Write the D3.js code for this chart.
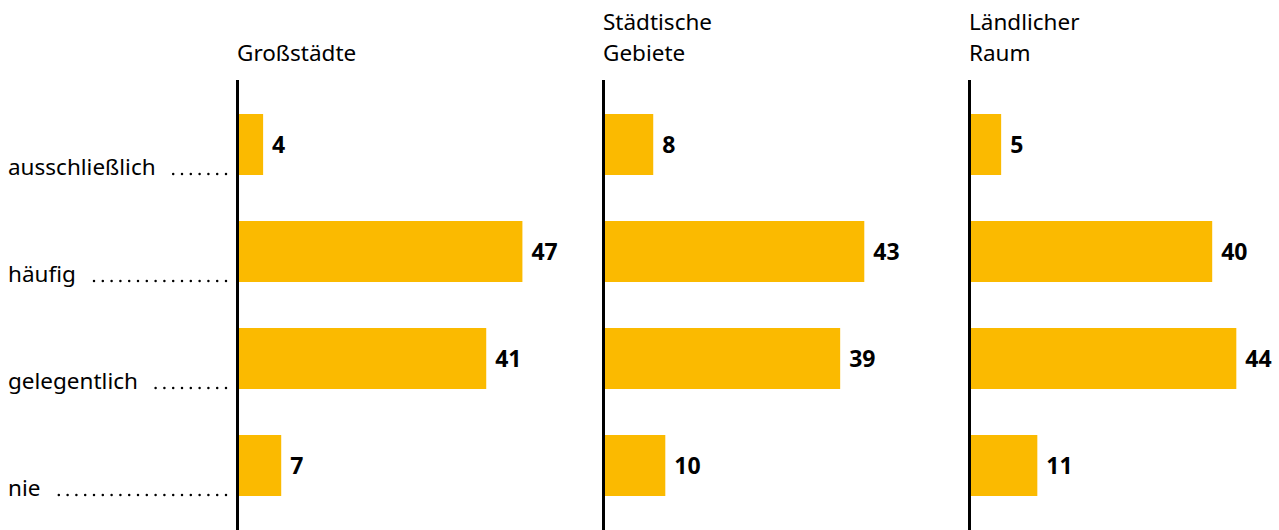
<!DOCTYPE html>
<html>
<head>
<meta charset="utf-8">
<script src="https://cdn.jsdelivr.net/npm/d3@7"></script>
<style>
  body{margin:0;background:#fff;}
  text{font-family:"Noto Sans",sans-serif;fill:#000;}
</style>
</head>
<body>
<svg id="chart" width="1279" height="530"></svg>
<script>
"use strict";

const categories = ["ausschließlich", "häufig", "gelegentlich", "nie"]
const regions = [["Großstädte"], ["Städtische", "Gebiete"], ["Ländlicher", "Raum"]]
const grossstaedte = [4, 47, 41, 7]
const staedtisch = [8, 43, 39, 10]
const laendlich = [5, 40, 44, 11]
const series = [grossstaedte, staedtisch, laendlich]

const barColor = "rgb(251,186,0)"
const svg = d3.select("#chart")

let xPanel = d3.scalePoint()
  .domain(d3.range(regions.length))
  .range([237, 969])

let y = d3.scaleBand()
  .domain(categories)
  .range([91, 519])
  .paddingInner(0.43)
  .paddingOuter(0.215)

let x = d3.scaleLinear()
  .domain([0, 50])
  .range([0, 301.5])

// row labels with dotted leaders
let rows = svg.append("g").attr("class", "row-labels")
let dotStep = 8.8
categories.forEach(c=>{
  let base = y(c) + y.bandwidth()
  let t = rows.append("text")
    .attr("x", 8)
    .attr("y", base)
    .attr("font-size", 22.5)
    .text(c)
  let w = t.node().getComputedTextLength()
  let start = 8 + w + 15
  let end = 226
  let n = Math.floor((end - start) / dotStep)
  rows.append("line")
    .attr("x1", end - n * dotStep)
    .attr("x2", end + 0.1)
    .attr("y1", base - 1)
    .attr("y2", base - 1)
    .attr("stroke", "#000")
    .attr("stroke-width", 2.5)
    .attr("stroke-linecap", "round")
    .attr("stroke-dasharray", "0," + dotStep)
})

regions.forEach((r, i)=>{
  let g = svg.append("g")
    .attr("transform", "translate(" + xPanel(i) + ",0)")

  // header, bottom-aligned
  let head = g.append("text").attr("font-size", 22.5)
  r.forEach((line, j)=>{
    head.append("tspan")
      .attr("x", 0)
      .attr("y", 61 - (r.length - 1 - j) * 31)
      .text(line)
  })

  g.selectAll("rect").data(series[i]).enter()
    .append("rect")
    .attr("x", 2)
    .attr("y", (d, k)=>y(categories[k]))
    .attr("width", d=>x(d))
    .attr("height", y.bandwidth())
    .attr("fill", barColor)

  g.selectAll(".val").data(series[i]).enter()
    .append("text")
    .attr("class", "val")
    .attr("x", d=>2 + x(d) + 9)
    .attr("y", (d, k)=>y(categories[k]) + y.bandwidth() / 2 + 8)
    .attr("font-size", 23)
    .attr("font-weight", "bold")
    .text(d=>d)

  g.append("line")
    .attr("x1", 0.5).attr("x2", 0.5)
    .attr("y1", 80).attr("y2", 530)
    .attr("stroke", "#000")
    .attr("stroke-width", 3)
})
</script>
</body>
</html>
